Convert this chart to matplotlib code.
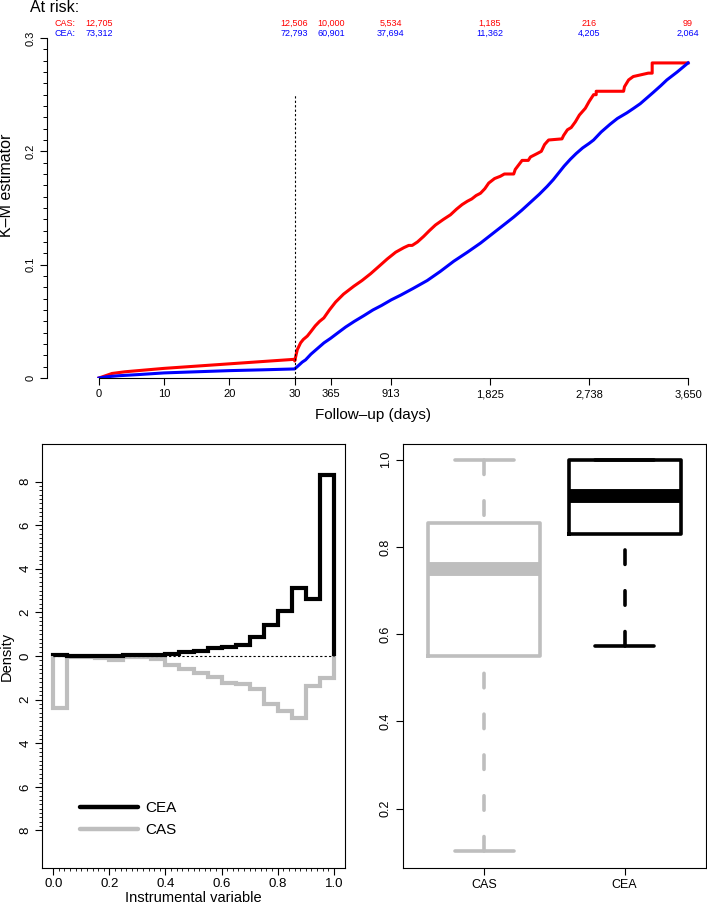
import numpy as np
import matplotlib
matplotlib.use('Agg')
import matplotlib.pyplot as plt
import matplotlib.transforms as mtransforms
from matplotlib.ticker import FixedLocator
from matplotlib.lines import Line2D

plt.rcParams['font.family'] = ['Liberation Sans', 'DejaVu Sans']

# ---- K-M curves (days, cumulative estimate) ----
cas_days = [0, 1, 2, 4, 6, 10, 15, 20, 25, 30, 31, 38, 45, 55, 70, 85, 110, 147,
            180, 220, 260, 299, 350, 407, 480, 575, 650, 729, 800, 882, 960, 1035,
            1080, 1112, 1160, 1218, 1270, 1326, 1400, 1464, 1520, 1571, 1620, 1660,
            1700, 1740, 1780, 1816, 1870, 1923, 1960, 2046, 2060, 2123, 2180, 2200,
            2261, 2300, 2330, 2367, 2490, 2505, 2540, 2575, 2613, 2650, 2705, 2740,
            2781, 2805, 2805, 3057, 3065, 3103, 3146, 3284, 3320, 3320, 3650]
cas_km = [0, 0.002, 0.004, 0.0055, 0.0065, 0.0085, 0.0105, 0.0125, 0.0145, 0.0165,
          0.015, 0.018, 0.021, 0.025, 0.028, 0.031, 0.034, 0.037,
          0.041, 0.046, 0.050, 0.053, 0.060, 0.067, 0.074, 0.081, 0.086, 0.092,
          0.098, 0.105, 0.111, 0.115, 0.117, 0.117, 0.120, 0.125, 0.130, 0.135,
          0.140, 0.144, 0.149, 0.153, 0.156, 0.158, 0.161, 0.163, 0.167, 0.172,
          0.176, 0.178, 0.180, 0.180, 0.184, 0.192, 0.192, 0.195, 0.198, 0.200,
          0.206, 0.210, 0.211, 0.214, 0.219, 0.221, 0.226, 0.232, 0.238, 0.244,
          0.250, 0.250, 0.253, 0.253, 0.257, 0.263, 0.266, 0.269, 0.269, 0.278,
          0.278]

cea_days = [0, 1, 3, 6, 10, 15, 20, 25, 30, 60, 100, 131, 180, 240, 300, 361, 430,
            500, 580, 667, 750, 830, 920, 1004, 1120, 1250, 1370, 1494, 1620, 1740,
            1820, 1900, 1980, 2046, 2120, 2200, 2280, 2353, 2410, 2460, 2510, 2567,
            2620, 2680, 2740, 2781, 2850, 2934, 3000, 3088, 3150, 3210, 3270, 3330,
            3400, 3455, 3550, 3650]
cea_km = [0, 0.001, 0.002, 0.003, 0.0045, 0.0055, 0.0065, 0.0072, 0.008, 0.0105,
          0.014, 0.016, 0.021, 0.026, 0.031, 0.035, 0.040, 0.045, 0.050, 0.055,
          0.060, 0.064, 0.069, 0.073, 0.079, 0.086, 0.094, 0.103, 0.111, 0.119,
          0.125, 0.131, 0.137, 0.142, 0.148, 0.155, 0.162, 0.169, 0.175, 0.181,
          0.187, 0.193, 0.198, 0.203, 0.207, 0.210, 0.217, 0.224, 0.229, 0.234,
          0.238, 0.242, 0.247, 0.252, 0.258, 0.263, 0.270, 0.278]

risk_days = [0, 30, 365, 913, 1825, 2738, 3650]
risk_cas = ['12,705', '12,506', '10,000', '5,534', '1,185', '216', '99']
risk_cea = ['73,312', '72,793', '60,901', '37,694', '11,362', '4,205', '2,064']

xtick_days = [0, 10, 20, 30, 365, 913, 1825, 2738, 3650]
xtick_labels = ['0', '10', '20', '30', '365', '913', '1,825', '2,738', '3,650']

# ---- histogram of instrumental variable ----
bin_edges = [0.00, 0.05, 0.10, 0.15, 0.20, 0.25, 0.30, 0.35, 0.40, 0.45, 0.50,
             0.55, 0.60, 0.65, 0.70, 0.75, 0.80, 0.85, 0.90, 0.95, 1.00]
cea_density = [0.03, 0.02, 0.02, 0.02, 0.01, 0.03, 0.03, 0.04, 0.09, 0.17,
               0.25, 0.35, 0.43, 0.50, 0.86, 1.40, 2.08, 3.11, 2.60, 8.28]
cas_density = [2.40, 0.03, 0.03, 0.10, 0.20, 0.06, 0.06, 0.14, 0.41, 0.61,
               0.77, 0.95, 1.23, 1.30, 1.53, 2.18, 2.51, 2.82, 1.38, 1.03]

# ---- boxplot summary ----
box_groups = ['CAS', 'CEA']
box_q1 = [0.550, 0.829]
box_med = [0.750, 0.917]
box_q3 = [0.856, 1.000]
box_lo = [0.104, 0.573]
box_hi = [1.000, 1.000]
box_colors = ['#BEBEBE', 'black']

W, H = 707, 905
fig = plt.figure(figsize=(W / 100, H / 100), dpi=100)


def box(l, t, r, b):
    return [l / W, 1 - b / H, (r - l) / W, (b - t) / H]


def fwd(t):
    t = np.asarray(t, dtype=float)
    return np.where(t <= 30, t, 30 + (t - 30) / 60.0)


def inv(u):
    u = np.asarray(u, dtype=float)
    return np.where(u <= 30, u, 30 + (u - 30) * 60.0)


# ================= top: K-M curves =================
ax = fig.add_axes(box(47, 38, 700, 378))
ax.set_xscale('function', functions=(fwd, inv))
ax.plot(cas_days, cas_km, color='red', lw=2.2)
ax.plot(cea_days, cea_km, color='blue', lw=2.2)
ax.vlines(30, 0, 0.25, color='black', lw=0.8, linestyles=(0, (2, 2)))
ax.set_xlim(-7.97, 3760)
ax.set_ylim(0, 0.3)
for s in ['top', 'right']:
    ax.spines[s].set_visible(False)
ax.spines['left'].set_bounds(0, 0.3)
ax.spines['bottom'].set_bounds(0, 3650)
ax.spines['left'].set_linewidth(0.8)
ax.spines['bottom'].set_linewidth(0.8)
ax.set_xticks(xtick_days)
ax.set_xticklabels(xtick_labels, fontsize=8)
ax.set_yticks([0, 0.1, 0.2, 0.3])
ax.set_yticklabels(['0', '0.1', '0.2', '0.3'], fontsize=8, rotation=90, va='center')
ax.yaxis.set_minor_locator(FixedLocator(np.arange(0, 0.3001, 0.01)))
ax.tick_params(which='major', direction='out', length=5, width=0.8, pad=3)
ax.tick_params(which='minor', axis='y', direction='out', length=3, width=0.7)
ax.tick_params(which='minor', axis='x', length=0)

tr = mtransforms.blended_transform_factory(ax.transData, fig.transFigure)
for d, a, b in zip(risk_days, risk_cas, risk_cea):
    ax.text(d, 1 - 23 / H, a, transform=tr, ha='center', va='center',
            fontsize=6.5, color='red', clip_on=False)
    ax.text(d, 1 - 33 / H, b, transform=tr, ha='center', va='center',
            fontsize=6.5, color='blue', clip_on=False)
fig.text(55 / W, 1 - 23 / H, 'CAS:', ha='left', va='center', fontsize=6.5, color='red')
fig.text(55 / W, 1 - 33 / H, 'CEA:', ha='left', va='center', fontsize=6.5, color='blue')
fig.text(30 / W, 1 - 7 / H, 'At risk:', ha='left', va='center', fontsize=11.5)
fig.text(7 / W, 1 - 185 / H, 'K–M estimator', rotation=90, ha='center', va='center',
         fontsize=11.5)
fig.text(373 / W, 1 - 415 / H, 'Follow–up (days)', ha='center', va='center', fontsize=11)

# ================= bottom left: mirrored histogram =================
ax2 = fig.add_axes(box(42, 444, 345, 868))
ax2.stairs(-np.array(cas_density), bin_edges, baseline=0, color='#BEBEBE', lw=3)
ax2.stairs(cea_density, bin_edges, baseline=0, color='black', lw=3)
ax2.hlines(0, 0, 1, color='black', lw=0.8, linestyles=(0, (2, 2)))
ax2.set_xlim(-0.04, 1.04)
ax2.set_ylim(-9.72, 9.72)
ax2.set_xticks([0, 0.2, 0.4, 0.6, 0.8, 1.0])
ax2.set_xticklabels(['0.0', '0.2', '0.4', '0.6', '0.8', '1.0'], fontsize=9.5)
ax2.set_yticks([-8, -6, -4, -2, 0, 2, 4, 6, 8])
ax2.set_yticklabels(['8', '6', '4', '2', '0', '2', '4', '6', '8'], fontsize=9.5,
                    rotation=90, va='center')
ax2.xaxis.set_minor_locator(FixedLocator(np.arange(0, 1.0001, 0.02)))
ax2.yaxis.set_minor_locator(FixedLocator(np.arange(-8, 8.001, 0.2)))
ax2.tick_params(which='major', direction='out', length=5, width=0.8, pad=2.5)
ax2.tick_params(which='minor', direction='out', length=2.5, width=0.6)
for s in ax2.spines.values():
    s.set_linewidth(0.8)
handles = [Line2D([], [], color='black', lw=3.2, solid_capstyle='round'),
           Line2D([], [], color='#BEBEBE', lw=3.2, solid_capstyle='round')]
ax2.legend(handles, ['CEA', 'CAS'], loc='lower left', bbox_to_anchor=(0.125, 0.072),
           frameon=False, fontsize=11, handlelength=3.8, handletextpad=0.5,
           labelspacing=0.55, borderpad=0, borderaxespad=0)
fig.text(7 / W, 1 - 656 / H, 'Density', rotation=90, ha='center', va='center',
         fontsize=10.5)
fig.text(193 / W, 1 - 898 / H, 'Instrumental variable', ha='center', va='center',
         fontsize=10.5)

# ================= bottom right: boxplot =================
ax3 = fig.add_axes(box(403, 444, 706, 868))
stats = []
for g, q1, m, q3, lo, hi in zip(box_groups, box_q1, box_med, box_q3, box_lo, box_hi):
    stats.append(dict(label=g, q1=q1, med=m, q3=q3, whislo=lo, whishi=hi, fliers=[]))
for i, (st, c) in enumerate(zip(stats, box_colors)):
    parts = ax3.bxp([st], positions=[i + 1], widths=0.8, capwidths=0.42,
                    showfliers=False,
                    boxprops=dict(color=c, lw=2.6),
                    medianprops=dict(color=c, lw=10, solid_capstyle='butt'),
                    whiskerprops=dict(color=c, lw=2.6, linestyle=(0, (4, 7.3)),
                                      dash_capstyle='round'),
                    capprops=dict(color=c, lw=2.6, solid_capstyle='round'))
    # dash pattern starts at the whisker end, as in R
    for w in parts['whiskers']:
        w.set_data(w.get_xdata()[::-1], w.get_ydata()[::-1])
ax3.set_xlim(0.42, 2.58)
ax3.set_ylim(0.064, 1.036)
ax3.set_xticks([1, 2])
ax3.set_xticklabels(box_groups, fontsize=9)
ax3.set_yticks([0.2, 0.4, 0.6, 0.8, 1.0])
ax3.set_yticklabels(['0.2', '0.4', '0.6', '0.8', '1.0'], fontsize=9, rotation=90,
                    va='center')
ax3.tick_params(direction='out', length=5, width=0.8, pad=3)
for s in ax3.spines.values():
    s.set_linewidth(0.8)

fig.savefig('out.png', dpi=100)
